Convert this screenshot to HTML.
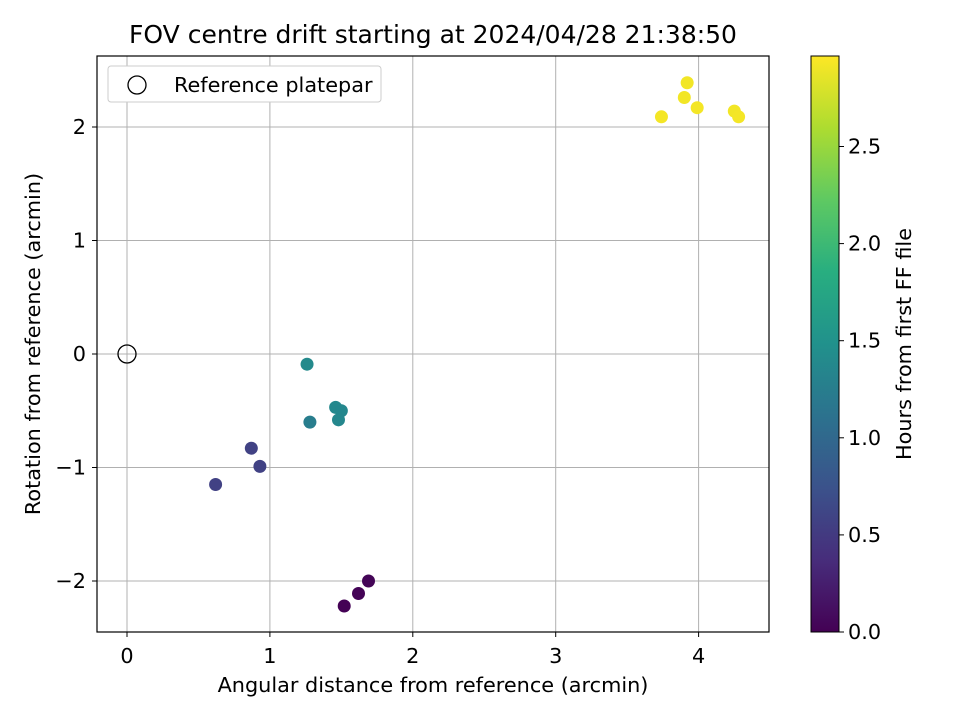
<!DOCTYPE html>
<html><head><meta charset="utf-8"><style>
body{margin:0;background:#fff;font-family:"Liberation Sans","DejaVu Sans",sans-serif}
svg text{font-family:"DejaVu Sans","Liberation Sans",sans-serif;fill:#000}
</style></head><body>
<svg id="chart" width="960" height="720" viewBox="0 0 960 720">
<text x="433" y="43" font-size="25" text-anchor="middle">FOV centre drift starting at 2024/04/28 21:38:50</text>
<g id="grid"></g><g id="pts"></g>
<rect x="97" y="56" width="672" height="576" fill="none" stroke="#000" stroke-width="1.2"/>
<g id="axes"></g>
<text x="433" y="692" font-size="20.8" text-anchor="middle">Angular distance from reference (arcmin)</text>
<text transform="translate(40,344) rotate(-90)" font-size="20.8" text-anchor="middle">Rotation from reference (arcmin)</text>
<g>
<rect x="108" y="66" width="273" height="36" rx="3" fill="#fff" stroke="#ccc"/>
<circle cx="137" cy="85" r="9" fill="none" stroke="#000" stroke-width="1.3"/>
<text x="174" y="92" font-size="20.8">Reference platepar</text>
</g>
<defs><linearGradient id="vir" x1="0" y1="1" x2="0" y2="0">
<stop offset="0" stop-color="#440154"/><stop offset="0.125" stop-color="#472d7b"/><stop offset="0.25" stop-color="#3b528b"/><stop offset="0.375" stop-color="#2c728e"/><stop offset="0.5" stop-color="#21918c"/><stop offset="0.625" stop-color="#28ae80"/><stop offset="0.75" stop-color="#5ec962"/><stop offset="0.875" stop-color="#addc30"/><stop offset="1" stop-color="#fde725"/></linearGradient></defs>
<rect x="811" y="56" width="28" height="576" fill="url(#vir)" stroke="#000"/>
<g id="cbticks"></g>
<text transform="translate(911,344) rotate(-90)" font-size="20.8" text-anchor="middle">Hours from first FF file</text>
</svg>
<script>
const xs=[3.74,3.90,3.92,3.99,4.25,4.28,1.26,1.46,1.50,1.48,1.28,0.87,0.93,0.62,1.69,1.62,1.52];
const ys=[2.09,2.26,2.39,2.17,2.14,2.09,-0.09,-0.47,-0.50,-0.58,-0.60,-0.83,-0.99,-1.15,-2.00,-2.11,-2.22];
const hours=[2.93,2.92,2.92,2.93,2.92,2.93,1.40,1.38,1.37,1.36,1.25,0.58,0.58,0.57,0.03,0.02,0.01];
const xTicks=[0,1,2,3,4];
const yTicks=[-2,-1,0,1,2];
const cTicks=[0,0.5,1.0,1.5,2.0,2.5];
const X=v=>127+v*142.9, Y=v=>354-v*113.5, C=v=>632-v*194.2;
const NS="http://www.w3.org/2000/svg";
function mk(t,a,p){const e=document.createElementNS(NS,t);for(const k in a)e.setAttribute(k,a[k]);p.appendChild(e);return e;}
const vs=[[68,1,84],[72,45,123],[59,82,139],[44,114,142],[33,145,140],[40,174,128],[94,201,98],[173,220,48],[253,231,37]];
function vir(t){t=Math.max(0,Math.min(1,t))*8;const i=Math.min(7,Math.floor(t)),f=t-i;return 'rgb('+vs[i].map((c,j)=>Math.round(c+(vs[i+1][j]-c)*f)).join(',')+')';}
const g=document.getElementById('grid'),ax=document.getElementById('axes'),pts=document.getElementById('pts'),cb=document.getElementById('cbticks');
xTicks.forEach(v=>{const x=X(v);
const l=mk('line',{x1:x,x2:x,y1:56,y2:632,stroke:'#b0b0b0','stroke-width':1},g);

mk('line',{x1:x,x2:x,y1:632,y2:637,stroke:'#000'},ax);
const t=mk('text',{x:x,y:663,'font-size':20.8,'text-anchor':'middle'},ax);t.textContent=v;
});
yTicks.forEach(v=>{const y=Y(v);
const l=mk('line',{x1:97,x2:769,y1:y,y2:y,stroke:'#b0b0b0','stroke-width':1},g);

mk('line',{x1:92,x2:97,y1:y,y2:y,stroke:'#000'},ax);
const t=mk('text',{x:86,y:y+7,'font-size':20.8,'text-anchor':'end'},ax);t.textContent=v<0?'\u2212'+(-v):v;
});
const r=mk('circle',{cx:X(0),cy:Y(0),r:9,fill:'none',stroke:'#000','stroke-width':1.3},pts);

xs.forEach((v,i)=>{const c=mk('circle',{cx:X(v),cy:Y(ys[i]),r:6.5,fill:vir(hours[i]/2.97)},pts);
});
cTicks.forEach(v=>{const y=C(v);mk('line',{x1:839,x2:844,y1:y,y2:y,stroke:'#000'},cb);
const t=mk('text',{x:848,y:y+7,'font-size':20.8},cb);t.textContent=v.toFixed(1);
});
</script>
</body></html>
